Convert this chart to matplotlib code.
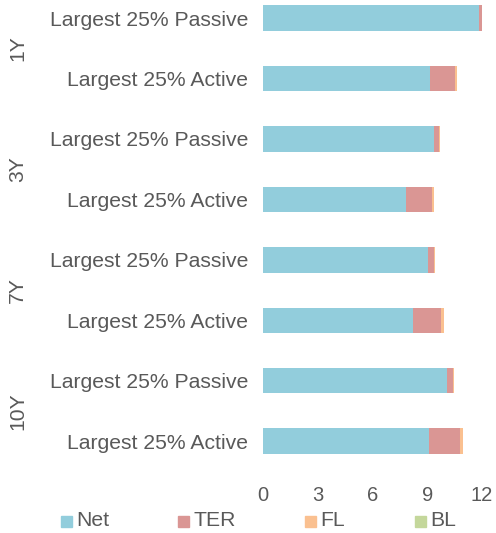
import matplotlib
matplotlib.use("Agg")
import matplotlib.pyplot as plt
from matplotlib.patches import Rectangle
import numpy as np

periods = ["1Y", "3Y", "7Y", "10Y"]
fund_types = ["Largest 25% Passive", "Largest 25% Active"]

# values per bar, top to bottom: 1Y Passive, 1Y Active, 3Y Passive, ...
net = [11.85, 9.15, 9.37, 7.85, 9.06, 8.20, 10.07, 9.12]
ter = [0.22, 1.37, 0.27, 1.41, 0.31, 1.54, 0.32, 1.66]
fl = [0.02, 0.10, 0.07, 0.13, 0.03, 0.16, 0.09, 0.16]
bl = [0.0, 0.0, 0.0, 0.0, 0.0, 0.0, 0.0, 0.0]

series = [("Net", net, "#92CDDC"), ("TER", ter, "#DA9694"),
          ("FL", fl, "#FAC090"), ("BL", bl, "#C4D79B")]

text_color = "#595959"
plt.rcParams["font.family"] = ["Liberation Sans", "DejaVu Sans"]

W, H = 496, 533
fig = plt.figure(figsize=(W / 100, H / 100), dpi=100)
ax = fig.add_axes([263 / W, 1 - 478 / H, (482 - 263) / W, 478 / H])

n = len(net)
ypos = np.arange(n)[::-1]
left = np.zeros(n)
for name, vals, col in series:
    vals = np.array(vals)
    ax.barh(ypos, vals, left=left, height=0.42, color=col, label=name)
    left += vals

ax.set_xlim(0, 12)
ax.set_ylim(-0.61, 7.3)
ax.set_xticks([0, 3, 6, 9, 12])
ax.tick_params(axis="x", length=0, labelsize=14.5, colors=text_color, pad=6)
ax.set_yticks(ypos)
labels = [fund_types[i % 2] for i in range(n)]
ax.set_yticklabels(labels)
ax.tick_params(axis="y", length=0, labelsize=15.2, colors=text_color, pad=10.8)
for s in ax.spines.values():
    s.set_visible(False)

# period labels spanning each pair of bars
for k, p in enumerate(periods):
    yc = (ypos[2 * k] + ypos[2 * k + 1]) / 2
    ax.text(-13.45, yc, p, rotation=90, ha="center", va="center",
            fontsize=15.2, color=text_color, transform=ax.transData)

# legend row along the bottom
legend_x = [61, 178, 305, 415]
legend_y = 521
sq = 11
for (name, _, col), x0 in zip(series, legend_x):
    fig.patches.append(Rectangle((x0 / W, 1 - (legend_y + sq / 2) / H),
                                 sq / W, sq / H, color=col,
                                 transform=fig.transFigure, figure=fig))
    fig.text((x0 + sq + 4) / W, 1 - legend_y / H, name, ha="left",
             va="center", fontsize=15.2, color=text_color)

fig.savefig("out.png", dpi=100)
